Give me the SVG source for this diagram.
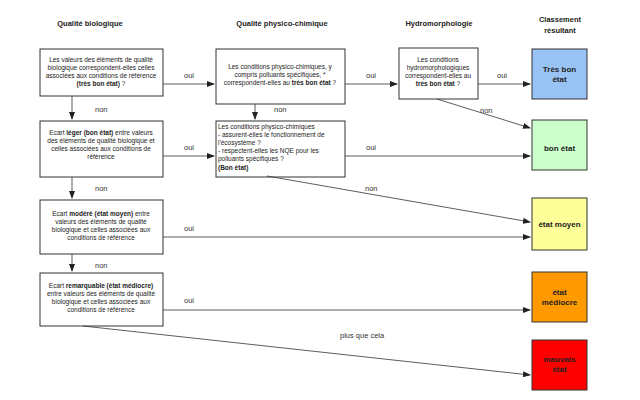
<svg xmlns="http://www.w3.org/2000/svg" width="640" height="400" viewBox="0 0 640 400">
<style>
text{font-family:"Liberation Sans",Arial,sans-serif;font-size:6.5px;fill:#222}
.h{font-weight:bold;font-size:7.5px;text-anchor:middle}
.c{text-anchor:middle}
.b{font-weight:bold}
.bx{fill:#fff;stroke:#333;stroke-width:1}
.cl{stroke:#333;stroke-width:1}
.ln{stroke:#333;stroke-width:0.8;fill:none;marker-end:url(#a)}
.lb{font-size:7.5px;fill:#333}
.r{font-weight:bold;font-size:8px;text-anchor:middle}
</style>
<defs><marker id="a" markerWidth="8" markerHeight="6" refX="7" refY="3" orient="auto" markerUnits="userSpaceOnUse"><path d="M0,0L8,3L0,6z" fill="#222"/></marker></defs>
<rect width="640" height="400" fill="#fff"/>
<text class="h" x="90" y="26">Qualité biologique</text>
<text class="h" x="282" y="26">Qualité physico-chimique</text>
<text class="h" x="439" y="26">Hydromorphologie</text>
<text class="h" x="560" y="22">Classement</text>
<text class="h" x="560" y="33">résultant</text>
<g id="A"><rect class="bx" x="40" y="49" width="123" height="47"/>
<text class="c" x="101" y="62">Les valeurs des éléments de qualité</text>
<text class="c" x="101" y="70">biologique correspondent-elles celles</text>
<text class="c" x="101" y="78">associées aux conditions de référence</text>
<text class="c" x="101" y="86"><tspan class="b">(très bon état)</tspan> ?</text></g>
<g id="B"><rect class="bx" x="40" y="121" width="123" height="56"/>
<text class="c" x="101" y="135">Ecart <tspan class="b">léger (bon état)</tspan> entre valeurs</text>
<text class="c" x="101" y="143">des éléments de qualité biologique et</text>
<text class="c" x="101" y="151">celles  associées aux conditions de</text>
<text class="c" x="101" y="159">référence</text></g>
<g id="C"><rect class="bx" x="40" y="200" width="123" height="54"/>
<text class="c" x="101" y="216">Ecart <tspan class="b">modéré (état moyen)</tspan> entre</text>
<text class="c" x="101" y="224">valeurs des éléments de qualité</text>
<text class="c" x="101" y="232">biologique et celles associées aux</text>
<text class="c" x="101" y="240">conditions de référence</text></g>
<g id="D"><rect class="bx" x="40" y="273" width="123" height="53"/>
<text class="c" x="101" y="288">Ecart <tspan class="b">remarquable (état médiocre)</tspan></text>
<text class="c" x="101" y="296">entre valeurs des éléments de qualité</text>
<text class="c" x="101" y="304">biologique et celles associées aux</text>
<text class="c" x="101" y="312">conditions de référence</text></g>
<g id="P1"><rect class="bx" x="216" y="49" width="129" height="55"/>
<text class="c" x="280" y="69">Les conditions physico-chimiques, y</text>
<text class="c" x="280" y="77">compris polluants spécifiques, *</text>
<text class="c" x="280" y="85">correspondent-elles au <tspan class="b">très bon état</tspan> ?</text></g>
<g id="P2"><rect class="bx" x="216" y="121" width="129" height="56"/>
<text x="218" y="129">Les conditions physico-chimiques</text>
<text x="218" y="137">- assurent-elles le fonctionnement de</text>
<text x="218" y="145">l'écosystème ?</text>
<text x="218" y="153">- respectent-elles les NQE pour les</text>
<text x="218" y="161">polluants spécifiques ?</text>
<text x="218" y="170" class="b">(Bon état)</text></g>
<g id="H"><rect class="bx" x="399" y="48" width="79" height="51"/>
<text class="c" x="438" y="62">Les conditions</text>
<text class="c" x="438" y="70">hydromorphologiques</text>
<text class="c" x="438" y="78">correspondent-elles au</text>
<text class="c" x="438" y="86"><tspan class="b">très bon état</tspan> ?</text></g>
<g id="R1"><rect class="cl" x="532" y="49" width="55" height="50" fill="#99c2f5"/>
<text class="r" x="559.5" y="72">Très bon</text><text class="r" x="559.5" y="82">état</text></g>
<g id="R2"><rect class="cl" x="532" y="120" width="55" height="50" fill="#ccffcc"/>
<text class="r" x="559.5" y="151">bon état</text></g>
<g id="R3"><rect class="cl" x="532" y="198" width="55" height="52" fill="#ffff99"/>
<text class="r" x="559.5" y="227">état moyen</text></g>
<g id="R4"><rect class="cl" x="532" y="272" width="55" height="50" fill="#ff9900"/>
<text class="r" x="559.5" y="295">état</text><text class="r" x="559.5" y="305">médiocre</text></g>
<g id="R5"><rect class="cl" x="532" y="340" width="55" height="50" fill="#ff0000"/>
<text class="r" x="559.5" y="362">mauvais</text><text class="r" x="559.5" y="372">état</text></g>
<g id="connectors">
<path class="ln" d="M163,84H214"/>
<path class="ln" d="M345,84H397"/>
<path class="ln" d="M478,84H530"/>
<path class="ln" d="M437,99L530,128"/>
<path class="ln" d="M72,96V119"/>
<path class="ln" d="M72,177V198"/>
<path class="ln" d="M72,254V271"/>
<path class="ln" d="M255,104V119"/>
<path class="ln" d="M163,156H214"/>
<path class="ln" d="M345,156H530"/>
<path class="ln" d="M267,176L530,222"/>
<path class="ln" d="M163,237H530"/>
<path class="ln" d="M163,310H530"/>
<path class="ln" d="M83,326L530,375"/>
</g>
<g>
<text class="lb" x="184" y="78">oui</text>
<text class="lb" x="366" y="78">oui</text>
<text class="lb" x="497" y="78">oui</text>
<text class="lb" x="184" y="150">oui</text>
<text class="lb" x="366" y="150">oui</text>
<text class="lb" x="184" y="231">oui</text>
<text class="lb" x="184" y="303">oui</text>
<text class="lb" x="95" y="112">non</text>
<text class="lb" x="274" y="112">non</text>
<text class="lb" x="480" y="113">non</text>
<text class="lb" x="95" y="191">non</text>
<text class="lb" x="365" y="191">non</text>
<text class="lb" x="95" y="268">non</text>
<text class="lb" x="340" y="338">plus que cela</text>
</g>
</svg>
